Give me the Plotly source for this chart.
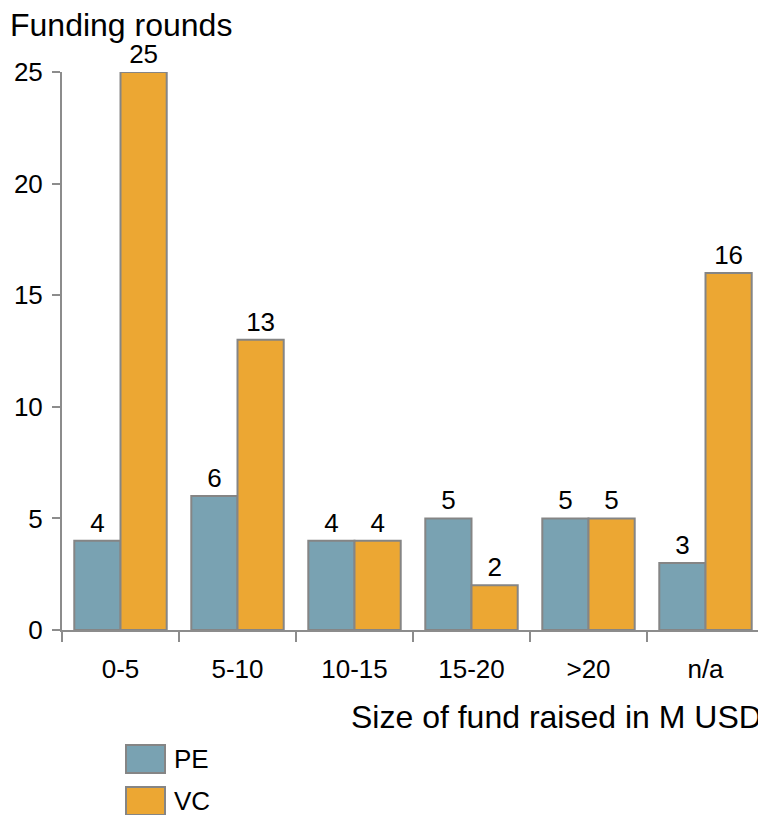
import plotly.graph_objects as go

# Data
categories = ["0-5", "5-10", "10-15", "15-20", ">20", "n/a"]
pe_rounds = [4, 6, 4, 5, 5, 3]
vc_rounds = [25, 13, 4, 2, 5, 16]
series_names = ["PE", "VC"]
y_ticks = [0, 5, 10, 15, 20, 25]

COLORS = {
    "pe": "#79a2b2",
    "vc": "#eca733",
    "edge": "#858585",
    "axis": "#8c8c8c",
    "ink": "#000000",
}
FONT = "Arial, Liberation Sans, sans-serif"

# page body adds an 8px offset, so the figure is a bit smaller than the window
W, H = 758, 807
L, T, PW, PH = 54, 64, 702, 558

fig = go.Figure()
for name, vals, col in [
    (series_names[0], pe_rounds, COLORS["pe"]),
    (series_names[1], vc_rounds, COLORS["vc"]),
]:
    fig.add_trace(go.Bar(
        name=name,
        x=categories,
        y=vals,
        text=[str(v) for v in vals],
        textposition="outside",
        textfont=dict(size=26, color=COLORS["ink"], family=FONT),
        cliponaxis=False,
        marker=dict(color=col, line=dict(color=COLORS["edge"], width=2)),
        showlegend=False,
    ))

fig.update_layout(
    width=W,
    height=H,
    margin=dict(l=L, r=W - L - PW, t=T, b=H - T - PH),
    paper_bgcolor="white",
    plot_bgcolor="white",
    font=dict(family=FONT, size=26, color=COLORS["ink"]),
    barmode="group",
    bargap=0.21,
    bargroupgap=0,
    xaxis=dict(
        showline=True,
        linecolor=COLORS["axis"],
        linewidth=2,
        ticks="outside",
        tickson="boundaries",
        ticklen=10,
        tickwidth=2,
        tickcolor=COLORS["axis"],
        ticklabelstandoff=15,
        showgrid=False,
        zeroline=False,
    ),
    yaxis=dict(
        range=[0, 25],
        tickvals=y_ticks,
        showline=True,
        linecolor=COLORS["axis"],
        linewidth=2,
        ticks="outside",
        ticklen=8,
        tickwidth=2,
        tickcolor=COLORS["axis"],
        ticklabelstandoff=4,
        showgrid=False,
        zeroline=False,
    ),
)


def px_x(x):
    return (x - 8 - L) / PW


def px_y(y):
    return (T + PH - (y - 8)) / PH


# Axis titles
fig.add_annotation(
    text="Funding rounds", xref="paper", yref="paper",
    x=px_x(8), y=px_y(25), xanchor="left", yanchor="middle",
    showarrow=False, font=dict(size=32, family=FONT, color=COLORS["ink"]),
)
fig.add_annotation(
    text="Size of fund raised in M USD", xref="paper", yref="paper",
    x=1, y=px_y(717), xanchor="right", yanchor="middle",
    showarrow=False, font=dict(size=32, family=FONT, color=COLORS["ink"]),
)

# Legend (large swatches)
for i, (name, col) in enumerate(zip(series_names, [COLORS["pe"], COLORS["vc"]])):
    top = 745 + i * 42
    fig.add_shape(
        type="rect", xref="paper", yref="paper",
        x0=px_x(126), x1=px_x(165),
        y0=px_y(top), y1=px_y(top + 28),
        fillcolor=col, line=dict(color=COLORS["edge"], width=2),
    )
    fig.add_annotation(
        text=name, xref="paper", yref="paper",
        x=px_x(172), y=px_y(top + 14),
        xanchor="left", yanchor="middle", showarrow=False,
        font=dict(size=26, family=FONT, color=COLORS["ink"]),
    )

fig.write_html("out.html")
